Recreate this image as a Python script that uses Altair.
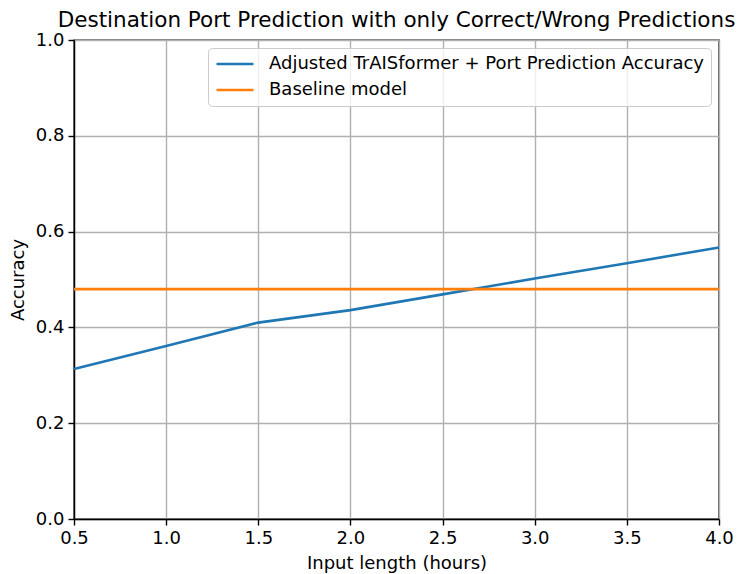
import altair as alt
import pandas as pd

# Input lengths (hours) and the accuracy of the adjusted model at each
input_hours = [0.5, 1.0, 1.5, 2.0, 2.5, 3.0, 3.5, 4.0]
model_accuracy = [0.313, 0.361, 0.410, 0.436, 0.469, 0.502, 0.534, 0.567]

# Constant accuracy of the baseline model
baseline_accuracy = 0.480

series_names = ["Adjusted TrAISformer + Port Prediction Accuracy", "Baseline model"]
series_colors = ["#1f77b4", "#ff7f0e"]

x_ticks = [0.5, 1.0, 1.5, 2.0, 2.5, 3.0, 3.5, 4.0]
y_ticks = [0.0, 0.2, 0.4, 0.6, 0.8, 1.0]

model_df = pd.DataFrame({
    "hours": input_hours,
    "accuracy": model_accuracy,
    "series": series_names[0],
})
baseline_df = pd.DataFrame({
    "hours": [input_hours[0], input_hours[-1]],
    "accuracy": [baseline_accuracy, baseline_accuracy],
    "series": series_names[1],
})

FONT = "DejaVu Sans"
LINE_W = 2.6

x_enc = alt.X(
    "hours:Q",
    title="Input length (hours)",
    scale=alt.Scale(domain=[0.5, 4.0], nice=False, zero=False),
    axis=alt.Axis(values=x_ticks, format=".1f"),
)
y_enc = alt.Y(
    "accuracy:Q",
    title="Accuracy",
    scale=alt.Scale(domain=[0.0, 1.0], nice=False),
    axis=alt.Axis(values=y_ticks, format=".1f"),
)
color_enc = alt.Color(
    "series:N",
    scale=alt.Scale(domain=series_names, range=series_colors),
    legend=alt.Legend(
        title=None,
        orient="none",
        legendX=134,
        legendY=8,
        symbolType="stroke",
        symbolSize=1369,
        symbolStrokeWidth=LINE_W,
        clipHeight=18,
        labelOffset=14,
        labelFontSize=18,
        labelFont=FONT,
        labelColor="#000000",
        labelLimit=0,
        rowPadding=8,
        padding=7,
        strokeColor="#cccccc",
        fillColor="rgba(255,255,255,0.8)",
        cornerRadius=4,
    ),
)

model_line = alt.Chart(model_df).mark_line(strokeWidth=LINE_W).encode(
    x=x_enc, y=y_enc, color=color_enc
)
baseline_line = alt.Chart(baseline_df).mark_line(strokeWidth=LINE_W).encode(
    x=x_enc, y=y_enc, color=color_enc
)

chart = (
    alt.layer(model_line, baseline_line)
    .properties(
        width=645,
        height=479,
        padding={"left": 74, "top": 40, "right": 22, "bottom": 55},
        autosize=alt.AutoSizeParams(type="none"),
        title=alt.TitleParams(
            "Destination Port Prediction with only Correct/Wrong Predictions",
            font=FONT,
            fontSize=21.5,
            fontWeight="normal",
            color="#000000",
            anchor="middle",
            offset=0,
        ),
    )
    .configure_view(stroke="#000000", strokeWidth=1.4)
    .configure_axis(
        labelFont=FONT,
        labelFontSize=18,
        labelColor="#000000",
        titleFont=FONT,
        titleFontSize=18,
        titleFontWeight="normal",
        titleColor="#000000",
        domainColor="#000000",
        domainWidth=1.4,
        tickColor="#000000",
        tickWidth=1.4,
        tickSize=6,
        labelPadding=4,
        grid=True,
        gridColor="#b0b0b0",
        gridWidth=1.4,
    )
    .configure_axisX(titlePadding=7, labelPadding=4, labelFlush=False)
    .configure_axisY(titlePadding=8)
)

chart.save("out.html", embed_options={"renderer": "svg", "actions": False})
